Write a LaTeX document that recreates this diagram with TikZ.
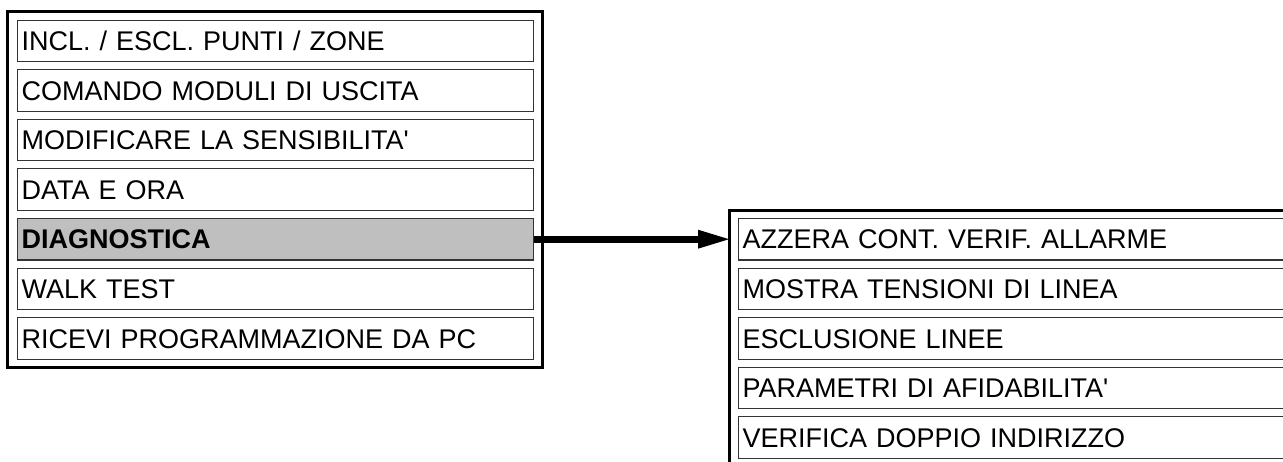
\documentclass[tikz,border=0pt]{standalone}
\usepackage{fontspec}
\setmainfont{Liberation Sans}
\usetikzlibrary{arrows.meta}
\begin{document}
\begin{tikzpicture}[x=1pt,y=-1pt,
  frame/.style={draw=black,line width=3pt,inner sep=0pt,outer sep=0pt,anchor=north west},
  menuitem/.style={draw=black!80,line width=1.1pt,fill=white,anchor=north west,
    minimum height=41.5pt,inner sep=0pt,inner xsep=4pt,text height=19.3pt,text depth=0pt,
    align=left,font=\fontsize{27}{31}\selectfont},
  leftitem/.style={menuitem,minimum width=516pt,text width=508pt},
  rightitem/.style={menuitem,minimum width=570pt,text width=562pt},
  selitem/.style={fill=black!25,font=\fontsize{27}{31}\selectfont\bfseries},
  bigarrow/.style={line width=6.8pt,-{Triangle[length=31pt,width=19pt,line width=0pt]}}
]
\useasboundingbox (0,0) rectangle (1283,461);
\clip (0,0) rectangle (1283,461);
% left menu
\node[frame,minimum width=534.5pt,minimum height=356.3pt] (lframe) at (7.5,11.3) {};
\node[leftitem] (l1) at (17,19.5) {INCL. / ESCL. PUNTI / ZONE};
\node[leftitem] (l2) at (17,69.1) {COMANDO MODULI DI USCITA};
\node[leftitem] (l3) at (17,118.7) {MODIFICARE LA SENSIBILITA\textquotesingle};
\node[leftitem] (l4) at (17,168.3) {DATA E ORA};
\node[leftitem,selitem] (dia) at (17,217.9) {DIAGNOSTICA};
\node[leftitem] (l6) at (17,267.5) {WALK TEST};
\node[leftitem] (l7) at (17,317.1) {RICEVI PROGRAMMAZIONE DA PC};
% right menu
\node[frame,minimum width=600pt,minimum height=300pt] (rframe) at (729,210.5) {};
\node[rightitem] (r1) at (738,217.9) {AZZERA CONT. VERIF. ALLARME};
\node[rightitem] (r2) at (738,267.5) {MOSTRA TENSIONI DI LINEA};
\node[rightitem] (r3) at (738,317.1) {ESCLUSIONE LINEE};
\node[rightitem] (r4) at (738,366.7) {PARAMETRI DI AFIDABILITA\textquotesingle};
\node[rightitem] (r5) at (738,416.3) {VERIFICA DOPPIO INDIRIZZO};
% arrow
\draw[bigarrow] (dia.east) -- (dia.east -| rframe.west);
\end{tikzpicture}
\end{document}
